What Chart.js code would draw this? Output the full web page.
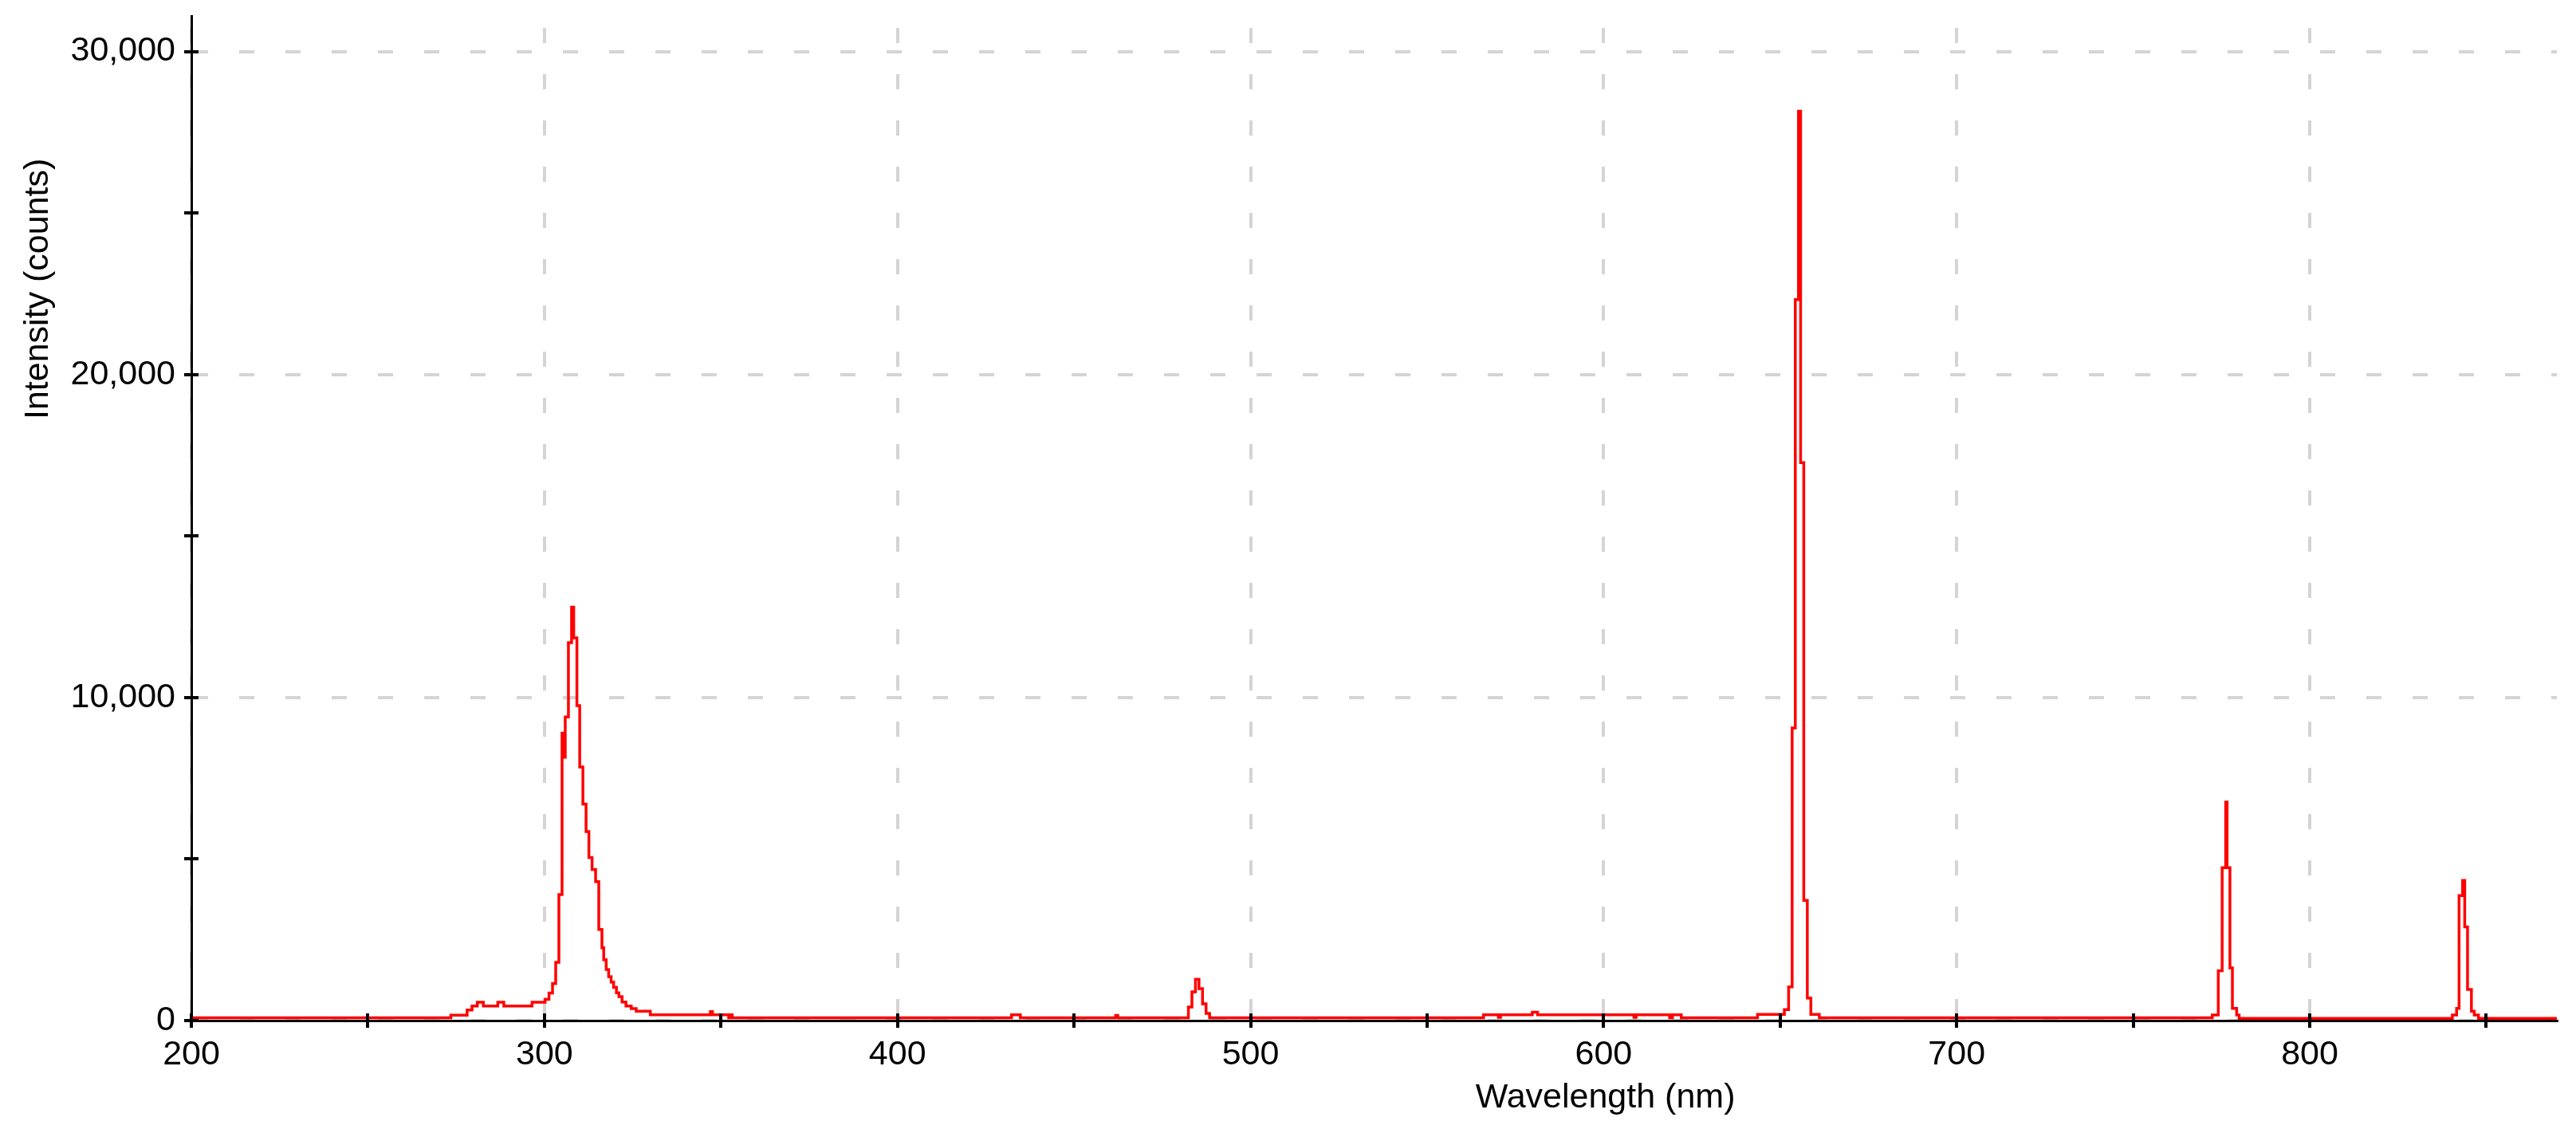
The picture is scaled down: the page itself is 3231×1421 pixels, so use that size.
<!DOCTYPE html>
<html lang="en">
<head>
  <meta charset="UTF-8" />
  <title>Emission spectrum</title>
  <script src="https://cdn.jsdelivr.net/npm/chart.js"></script>
  <style>
    html, body {
      margin: 0;
      padding: 0;
      background: #ffffff;
    }
    #wrap {
      width: 3231px;
      height: 1421px;
    }
  </style>
</head>
<body>

  <div id="wrap">
    <canvas id="spectrum"></canvas>
  </div>

  <script>
    // wavelength (nm) where each flat step of the spectrum starts, and its intensity (counts)
    const wavelengthNm = [
      200, 273.5, 278.1, 279.5, 281.0, 282.7, 286.8, 288.5, 296.5, 300.2,
      301.3, 302.3, 303.2, 304.1, 305.0, 305.5, 305.9, 306.8, 307.7, 308.3,
      309.2, 310.0, 310.9, 311.8, 312.6, 313.5, 314.5, 315.4, 316.3, 316.8,
      317.5, 318.2, 318.9, 319.6, 320.4, 321.1, 322.0, 323.1, 324.6, 326.0,
      330.0, 347.0, 347.6, 352.2, 352.7, 353.2, 432.3, 434.8, 461.8, 462.4,
      482.4, 483.4, 484.4, 485.4, 486.4, 487.4, 488.4, 566.0, 570.2, 570.8,
      579.8, 581.3, 608.6, 609.2, 618.7, 619.5, 622.0, 643.6, 651.2, 652.4,
      653.4, 654.3, 655.2, 655.8, 656.7, 657.7, 658.7, 661.1, 772.4, 774.1,
      775.2, 776.2, 776.6, 777.4, 778.1, 779.3, 780.0, 840.4, 841.6, 842.3,
      843.3, 843.9, 844.7, 845.8, 846.6, 847.8, 870
    ];
    const intensityCounts = [
      86, 165, 330, 450, 565, 450, 565, 450, 565, 660,
      850, 1150, 1800, 3900, 8900, 8150, 9400, 11700, 12800, 11850,
      9750, 7850, 6700, 5850, 5050, 4680, 4300, 2820, 2250, 1880,
      1580, 1360, 1190, 1030, 860, 740, 575, 450, 370, 290,
      180, 280, 180, 86, 180, 86, 180, 86, 160, 86,
      420, 890, 1280, 990, 520, 220, 86, 180, 100, 180,
      260, 180, 100, 180, 86, 180, 86, 190, 340, 1040,
      9060, 22320, 28150, 17270, 3720, 700, 190, 86, 170, 1545,
      4730, 6760, 4730, 1630, 375, 170, 70, 170, 375, 3870,
      4340, 2900, 960, 290, 170, 70, 70
    ];

    const xMin = 200, xMax = 870;
    const yMin = 0, yMax = 31100;
    const xTickValues = [200, 250, 300, 350, 400, 450, 500, 550, 600, 650, 700, 750, 800, 850];
    const yTickValues = [0, 5000, 10000, 15000, 20000, 25000, 30000];
    const xLabelTicks = [200, 300, 400, 500, 600, 700, 800];
    const yLabelTicks = [0, 10000, 20000, 30000];

    const xTitle = "Wavelength (nm)";
    const yTitle = "Intensity (counts)";
    const xTitleAt = 600.5;   // wavelength under which the x title sits
    const yTitleAt = 22650;   // intensity beside which the y title sits

    const FONT_FAMILY = "'Liberation Sans', Arial, sans-serif";
    const FONT_SIZE = 43;
    const GRID_GREY = "#d4d4d4";

    // axis titles at fixed values and small tick stubs crossing into the plot
    const axisExtras = {
      id: "axisExtras",
      afterDraw(chart) {
        const { ctx, chartArea, scales: { x, y } } = chart;
        ctx.save();
        ctx.strokeStyle = "#000";
        ctx.lineWidth = 4;
        ctx.beginPath();
        x.ticks.forEach(t => {
          const px = Math.round(x.getPixelForValue(t.value));
          ctx.moveTo(px, chartArea.bottom);
          ctx.lineTo(px, chartArea.bottom - 9);
        });
        y.ticks.forEach(t => {
          const py = Math.round(y.getPixelForValue(t.value));
          ctx.moveTo(chartArea.left, py);
          ctx.lineTo(chartArea.left + 9, py);
        });
        ctx.stroke();

        ctx.fillStyle = "#000";
        ctx.font = FONT_SIZE + "px " + FONT_FAMILY;
        ctx.textAlign = "center";
        ctx.textBaseline = "alphabetic";
        ctx.fillText(xTitle, x.getPixelForValue(xTitleAt), chartArea.bottom + 109);

        ctx.translate(chartArea.left - 180, y.getPixelForValue(yTitleAt));
        ctx.rotate(-Math.PI / 2);
        ctx.fillText(yTitle, 0, 0);
        ctx.restore();
      }
    };

    const points = wavelengthNm.map((w, i) => ({ x: w, y: intensityCounts[i] }));

    new Chart(document.getElementById("spectrum"), {
      type: "line",
      data: {
        datasets: [{
          data: points,
          borderColor: "#ff0000",
          borderWidth: 3.5,
          pointRadius: 0,
          fill: false,
          stepped: true,
          tension: 0
        }]
      },
      options: {
        responsive: true,
        maintainAspectRatio: false,
        devicePixelRatio: 1,
        animation: false,
        events: [],
        layout: { padding: { top: 20, right: 24, left: 0, bottom: 0 } },
        plugins: {
          legend: { display: false },
          tooltip: { enabled: false },
          title: { display: false }
        },
        scales: {
          x: {
            type: "linear",
            min: xMin,
            max: xMax,
            afterFit: s => { s.height = 141; s.paddingLeft = 0; s.paddingRight = 0; },
            afterBuildTicks: s => { s.ticks = xTickValues.map(v => ({ value: v })); },
            ticks: {
              autoSkip: false,
              maxRotation: 0,
              padding: 8,
              color: "#000",
              font: { family: FONT_FAMILY, size: FONT_SIZE },
              callback: v => xLabelTicks.includes(v) ? String(v) : ""
            },
            grid: {
              color: c => (c.tick && c.tick.value % 100 === 0) ? GRID_GREY : "rgba(0,0,0,0)",
              lineWidth: 4,
              tickLength: 9,
              tickColor: "#000",
              tickWidth: 4
            },
            border: { display: true, color: "#000", width: 3, dash: [19, 39], dashOffset: 43 }
          },
          y: {
            type: "linear",
            min: yMin,
            max: yMax,
            afterFit: s => { s.width = 240; s.paddingTop = 0; s.paddingBottom = 0; },
            afterBuildTicks: s => { s.ticks = yTickValues.map(v => ({ value: v })); },
            ticks: {
              autoSkip: false,
              padding: 11,
              color: "#000",
              font: { family: FONT_FAMILY, size: FONT_SIZE },
              callback: v => yLabelTicks.includes(v) ? v.toLocaleString("en-US") : ""
            },
            grid: {
              color: c => (c.tick && c.tick.value % 10000 === 0) ? GRID_GREY : "rgba(0,0,0,0)",
              lineWidth: 4,
              tickLength: 9,
              tickColor: "#000",
              tickWidth: 4
            },
            border: { display: true, color: "#000", width: 3, dash: [19, 39], dashOffset: 0 }
          }
        }
      },
      plugins: [axisExtras]
    });
  </script>

</body>
</html>
